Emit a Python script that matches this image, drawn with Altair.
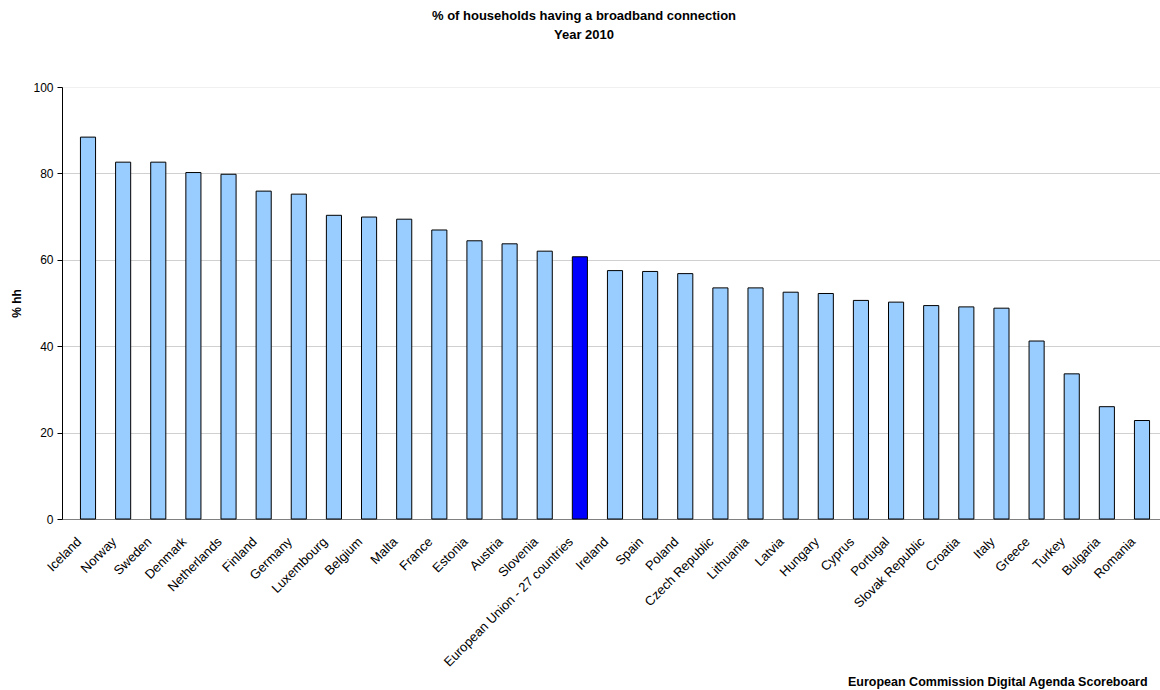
import altair as alt
import pandas as pd

countries = ["Iceland", "Norway", "Sweden", "Denmark", "Netherlands", "Finland", "Germany",
             "Luxembourg", "Belgium", "Malta", "France", "Estonia", "Austria", "Slovenia",
             "European Union - 27 countries", "Ireland", "Spain", "Poland", "Czech Republic",
             "Lithuania", "Latvia", "Hungary", "Cyprus", "Portugal", "Slovak Republic",
             "Croatia", "Italy", "Greece", "Turkey", "Bulgaria", "Romania"]
values = [88.4, 82.6, 82.6, 80.2, 79.8, 75.9, 75.2, 70.3, 69.9, 69.4, 66.9, 64.4, 63.7, 62.0,
          60.7, 57.5, 57.3, 56.8, 53.5, 53.5, 52.5, 52.2, 50.6, 50.2, 49.4, 49.1, 48.8, 41.2,
          33.6, 26.0, 22.8]
highlight = "European Union - 27 countries"
title_lines = ["% of households having a broadband connection", "Year 2010"]
y_title = "% hh"
footer = "European Commission Digital Agenda Scoreboard"

df = pd.DataFrame({"country": countries, "value": values})
FONT = "Liberation Sans"

bars = alt.Chart(df).mark_bar(stroke="black", strokeWidth=1).encode(
    x=alt.X("country:N", sort=None, title=None,
            scale=alt.Scale(paddingInner=0.57, paddingOuter=0.525, range=[0, 1106]),
            axis=alt.Axis(labelAngle=-45, labelAlign="right", labelBaseline="top",
                          labelFontSize=13, labelFont=FONT, labelColor="black",
                          ticks=False, domainColor="#808080", labelPadding=16,
                          labelOverlap=False, labelOffset=-13)),
    y=alt.Y("value:Q", title=y_title,
            scale=alt.Scale(domain=[0, 100], nice=False),
            axis=alt.Axis(values=[0, 20, 40, 60, 80, 100], labelFontSize=12, labelFont=FONT,
                          labelColor="black", tickColor="black", tickSize=5, labelPadding=4,
                          domainColor="black", titleFont=FONT, titleFontSize=12,
                          titleFontWeight="bold", titleColor="black", titlePadding=9,
                          gridColor={"condition": {"test": "datum.value === 100",
                                                   "value": "#f0f0f0"},
                                     "value": "#d0d0d0"})),
    color=alt.condition(alt.datum.country == highlight, alt.value("#0000FF"),
                        alt.value("#99CCFF")),
)

foot = alt.Chart(pd.DataFrame({"t": [footer]})).mark_text(
    align="left", baseline="alphabetic", font=FONT, fontSize=12.5, fontWeight="bold",
    color="black").encode(text="t:N", x=alt.value(786), y=alt.value(599))

chart = alt.layer(bars, foot).properties(
    width=1098, height=432,
    title=alt.TitleParams(title_lines, font=FONT, fontSize=13, fontWeight="bold",
                          color="black", anchor="middle", offset=39, lineHeight=19, dx=-27),
    autosize=alt.AutoSizeParams(type="none"),
    padding={"left": 62, "top": 87, "right": 0, "bottom": 171},
).configure_view(stroke=None)

chart.save("out.html", embed_options={"renderer": "svg", "actions": False})
